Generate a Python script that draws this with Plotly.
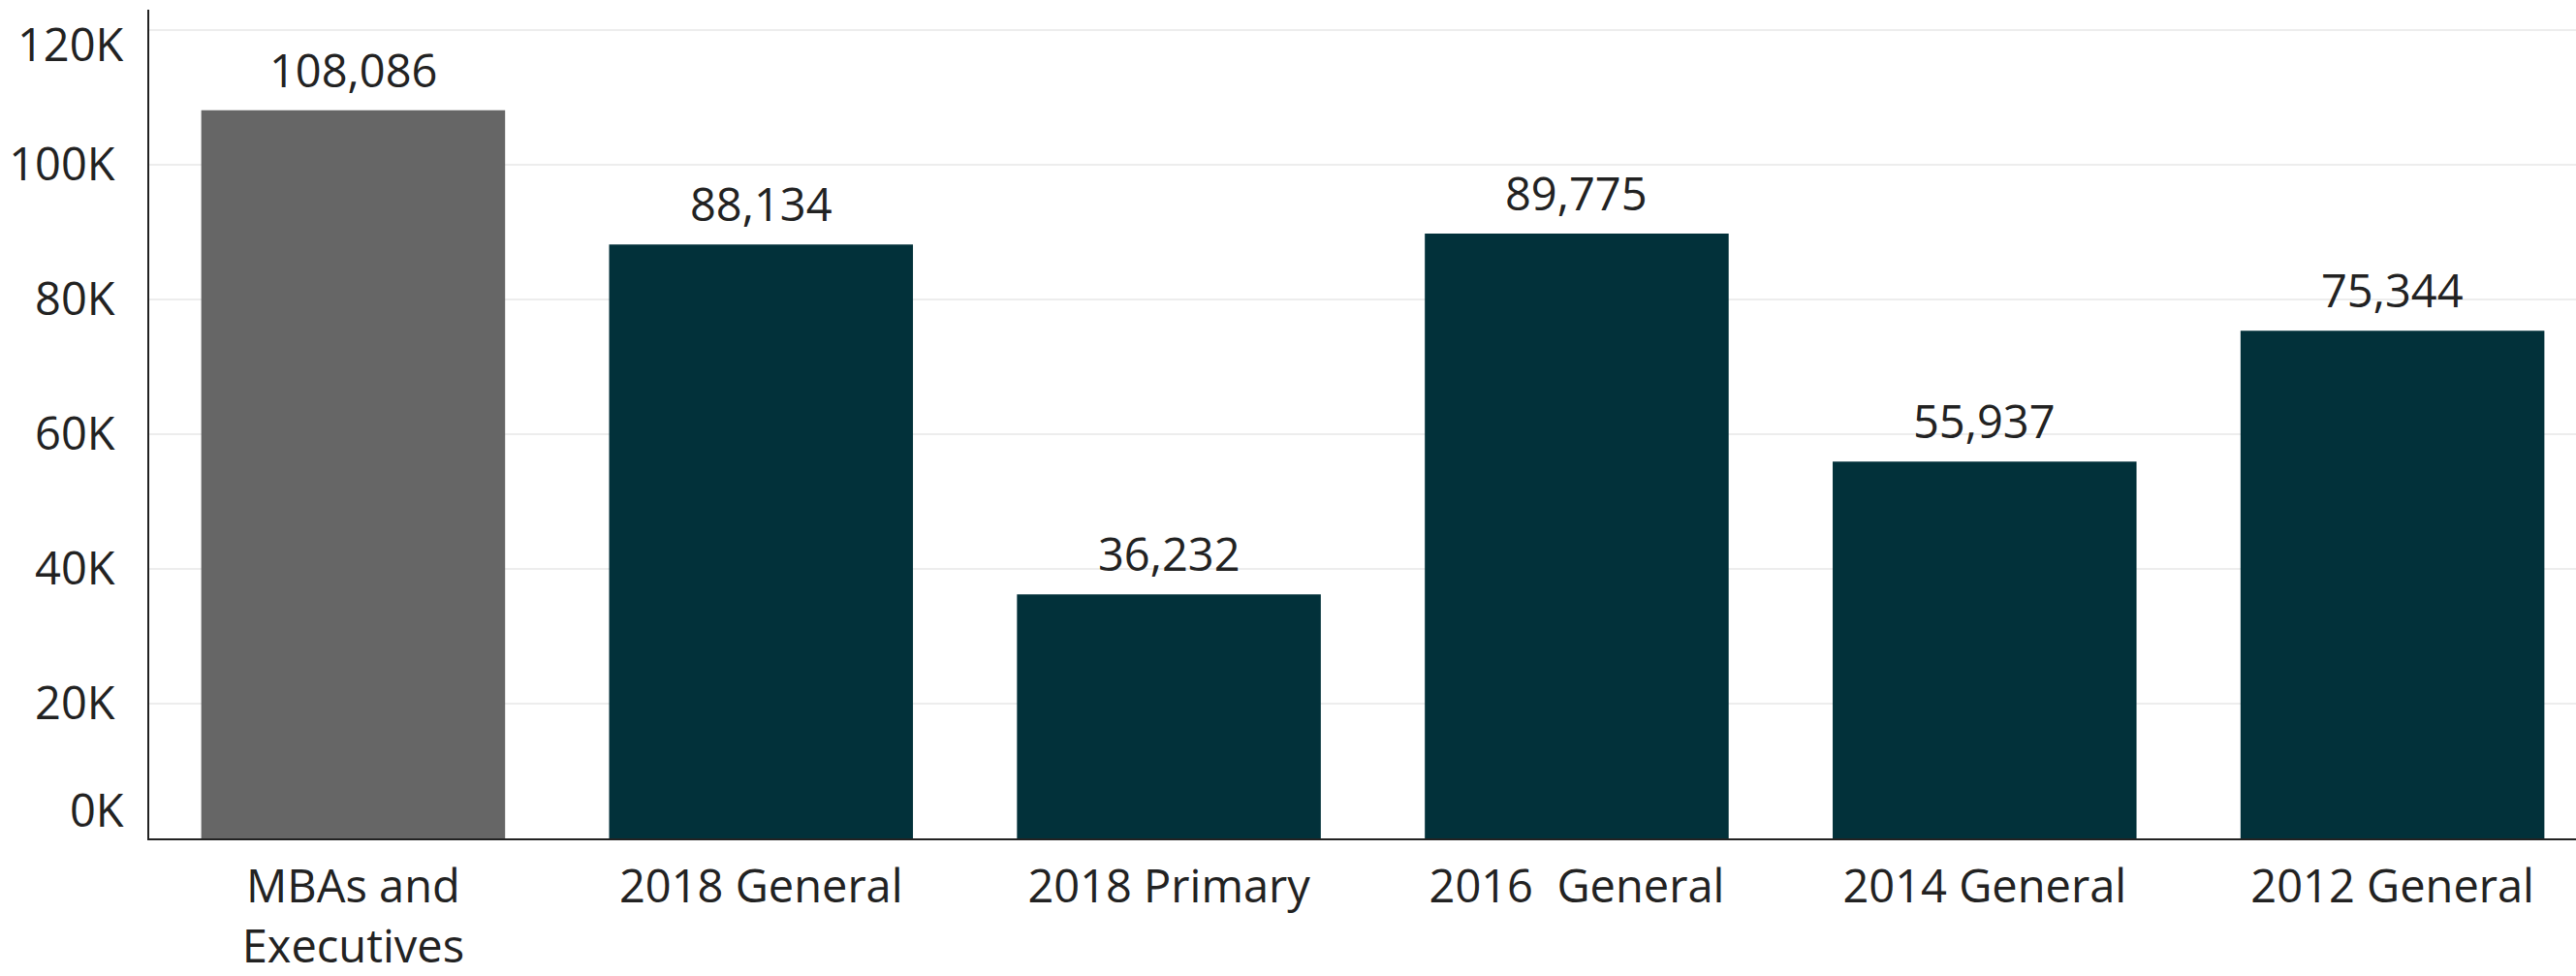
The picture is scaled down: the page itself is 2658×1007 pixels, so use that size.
import plotly.graph_objects as go

# Vote totals by group
categories = ["MBAs and<br>Executives", "2018 General", "2018 Primary",
              "2016\u00a0 General", "2014 General", "2012 General"]
votes = [108086, 88134, 36232, 89775, 55937, 75344]
bar_colors = ["#666666", "#02313A", "#02313A", "#02313A", "#02313A", "#02313A"]

y_tick_vals = [20000, 40000, 60000, 80000, 100000]
y_tick_text = ["20K", "40K", "60K", "80K", "100K"]

FONT = "Open Sans, Noto Sans, sans-serif"
TEXT_COLOR = "#222222"
FONT_SIZE = 47

x_pos = list(range(len(categories)))

fig = go.Figure(
    go.Bar(
        x=x_pos,
        y=votes,
        marker=dict(color=bar_colors, line=dict(width=0)),
        width=0.745,
        hoverinfo="skip",
    )
)

# value labels above each bar
for xi, v in zip(x_pos, votes):
    fig.add_annotation(x=xi, y=v, xref="x", yref="y",
                       yanchor="bottom", yshift=8,
                       text=f"{v:,}", showarrow=False,
                       font=dict(family=FONT, size=FONT_SIZE, color=TEXT_COLOR))

# end labels of the value axis sit inside the plot edges
fig.add_annotation(x=0, xref="paper", xanchor="right", xshift=-24,
                   y=0, yref="y", yanchor="middle", yshift=30,
                   text="0K", showarrow=False,
                   font=dict(family=FONT, size=FONT_SIZE, color=TEXT_COLOR))
fig.add_annotation(x=0, xref="paper", xanchor="right", xshift=-24,
                   y=120000, yref="y", yanchor="middle", yshift=-14,
                   text="120K", showarrow=False,
                   font=dict(family=FONT, size=FONT_SIZE, color=TEXT_COLOR))

fig.update_layout(
    width=2658,
    height=1007,
    margin=dict(l=154, r=0, t=10, b=136),
    paper_bgcolor="white",
    plot_bgcolor="white",
    showlegend=False,
    font=dict(family=FONT, size=FONT_SIZE, color=TEXT_COLOR),
    xaxis=dict(
        range=[-0.5, 5.45],
        tickmode="array",
        tickvals=x_pos,
        ticktext=categories,
        showgrid=False,
        showline=True,
        linecolor="#222222",
        linewidth=2,
        ticks="",
        ticklabelstandoff=8,
        tickfont=dict(family=FONT, size=FONT_SIZE, color=TEXT_COLOR),
        zeroline=False,
        fixedrange=True,
    ),
    yaxis=dict(
        range=[0, 123000],
        tickmode="array",
        tickvals=y_tick_vals + [120000],
        ticktext=y_tick_text + [""],
        showgrid=True,
        gridcolor="#EDEDED",
        gridwidth=2,
        showline=True,
        linecolor="#222222",
        linewidth=2,
        ticks="",
        ticklabelstandoff=24,
        tickfont=dict(family=FONT, size=FONT_SIZE, color=TEXT_COLOR),
        zeroline=False,
        fixedrange=True,
    ),
)

fig.write_html("out.html")
